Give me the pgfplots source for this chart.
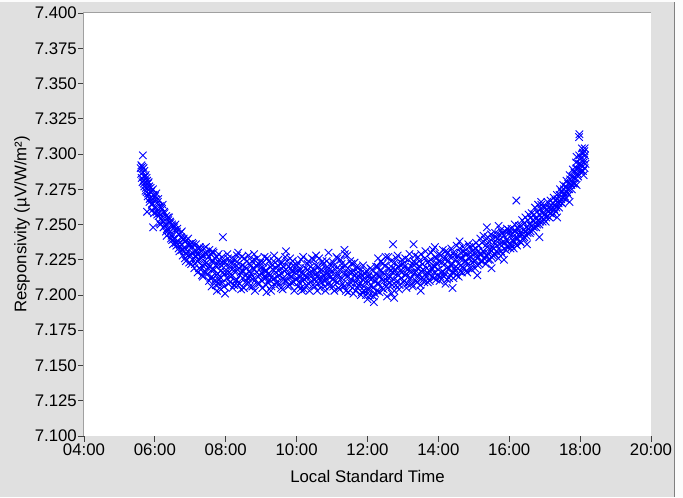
\documentclass[border=0pt]{standalone}
\usepackage{fontspec}
\setmainfont{Liberation Sans}
\usepackage{pgfplots}
\pgfplotsset{compat=1.18}
\definecolor{bg}{RGB}{224,224,224}
\definecolor{frame}{RGB}{160,160,160}
\begin{document}
\fontsize{16.8}{20}\selectfont
\begin{tikzpicture}
\fill[bg] (-84pt,-61pt) rectangle (599pt,436pt);
\fill[white!92!bg] (-84pt,434pt) rectangle (599pt,436pt);
\fill[white!92!bg] (591pt,-61pt) rectangle (599pt,436pt);
\draw[gray, line width=1pt] (590.5pt,-61pt) -- (590.5pt,434pt);
\begin{axis}[
  at={(0,0)}, anchor=south west,
  scale only axis, width=567pt, height=423pt,
  xmin=4, xmax=20, ymin=7.1, ymax=7.4,
  xtick={4,6,8,10,12,14,16,18,20},
  xticklabels={04:00,06:00,08:00,10:00,12:00,14:00,16:00,18:00,20:00},
  ytick={7.1,7.125,7.15,7.175,7.2,7.225,7.25,7.275,7.3,7.325,7.35,7.375,7.4},
  yticklabel style={/pgf/number format/fixed, /pgf/number format/fixed zerofill, /pgf/number format/precision=3, inner sep=1pt},
  xticklabel style={inner sep=2pt},
  /pgf/number format/assume math mode=true,
  xtick pos=bottom, ytick pos=left,
  tick align=outside, major tick length=6pt,
  tick style={black!75, line width=0.9pt},
  axis line style={draw=none},
  axis background/.style={fill=white},
  clip=false,
]
\addplot[only marks, mark=x, mark size=5.3pt, blue, mark options={line width=0.9pt}] coordinates {
(5.60,7.290)(5.63,7.283)(5.66,7.287)(5.69,7.279)(5.72,7.284)(5.75,7.276)(5.78,7.281)(5.81,7.272)(5.84,7.277)(5.87,7.269)(5.90,7.274)(5.93,7.265)(5.96,7.271)(5.99,7.262)
(5.62,7.292)(5.65,7.280)(5.68,7.290)(5.70,7.277)(5.74,7.285)(5.77,7.273)(5.80,7.279)(5.85,7.266)(5.88,7.276)(5.92,7.260)(5.95,7.268)(5.66,7.299)(5.78,7.259)(5.95,7.248)
(6.02,7.268)(6.05,7.259)(6.08,7.266)(6.11,7.256)(6.14,7.263)(6.17,7.254)(6.20,7.261)(6.23,7.252)(6.26,7.259)(6.29,7.249)(6.32,7.256)(6.35,7.247)(6.38,7.253)(6.41,7.244)
(6.44,7.251)(6.47,7.242)(6.50,7.249)(6.53,7.240)(6.56,7.246)(6.59,7.237)(6.62,7.245)(6.65,7.236)(6.68,7.243)(6.71,7.234)(6.74,7.241)(6.77,7.232)(6.80,7.239)(6.83,7.231)
(6.86,7.238)(6.89,7.229)(6.92,7.236)(6.95,7.228)(6.98,7.235)
(6.04,7.272)(6.13,7.251)(6.22,7.264)(6.31,7.245)(6.40,7.255)(6.49,7.239)(6.58,7.250)(6.67,7.233)(6.76,7.245)(6.85,7.226)(6.94,7.240)
(7.01,7.228)(7.04,7.234)(7.07,7.225)(7.10,7.231)(7.13,7.222)(7.16,7.236)(7.19,7.224)(7.22,7.229)(7.25,7.219)(7.28,7.232)(7.31,7.226)(7.34,7.221)(7.37,7.228)(7.40,7.217)
(7.43,7.230)(7.46,7.223)(7.49,7.215)(7.52,7.227)(7.55,7.220)(7.58,7.229)(7.61,7.213)(7.64,7.224)(7.67,7.218)(7.70,7.226)(7.73,7.214)(7.76,7.222)(7.79,7.211)(7.82,7.225)
(7.85,7.217)(7.88,7.221)(7.91,7.209)(7.94,7.224)(7.97,7.215)
(7.05,7.237)(7.15,7.228)(7.24,7.233)(7.33,7.214)(7.44,7.234)(7.53,7.210)(7.63,7.231)(7.72,7.207)(7.80,7.229)(7.92,7.241)(7.75,7.203)(7.98,7.201)(7.86,7.204)(7.60,7.206)
(8.00,7.221)(8.03,7.212)(8.06,7.226)(8.09,7.216)(8.12,7.209)(8.15,7.223)(8.18,7.214)(8.21,7.219)(8.24,7.207)(8.27,7.225)(8.30,7.211)(8.33,7.218)(8.36,7.222)(8.39,7.208)
(8.42,7.216)(8.45,7.227)(8.48,7.212)(8.51,7.205)(8.54,7.220)(8.57,7.214)(8.60,7.224)(8.63,7.209)(8.66,7.217)(8.69,7.213)(8.72,7.221)(8.75,7.206)(8.78,7.219)(8.81,7.225)
(8.84,7.211)(8.87,7.216)(8.90,7.208)(8.93,7.222)(8.96,7.214)(8.99,7.219)(9.02,7.210)(9.05,7.223)(9.08,7.213)(9.11,7.217)(9.14,7.207)(9.17,7.226)(9.20,7.215)(9.23,7.211)
(9.26,7.220)(9.29,7.206)(9.32,7.218)(9.35,7.224)(9.38,7.212)(9.41,7.216)(9.44,7.209)(9.47,7.221)(9.50,7.214)(9.53,7.218)(9.56,7.205)(9.59,7.223)(9.62,7.212)(9.65,7.217)
(9.68,7.227)(9.71,7.210)(9.74,7.215)(9.77,7.220)(9.80,7.207)(9.83,7.219)(9.86,7.213)(9.89,7.224)(9.92,7.209)(9.95,7.216)(9.98,7.211)(10.01,7.221)(10.04,7.206)(10.07,7.217)
(10.10,7.213)(10.13,7.225)(10.16,7.210)(10.19,7.215)(10.22,7.204)(10.25,7.219)(10.28,7.212)(10.31,7.222)(10.34,7.208)(10.37,7.216)(10.40,7.213)(10.43,7.226)(10.46,7.207)
(10.49,7.218)(10.52,7.211)(10.55,7.215)(10.58,7.203)(10.61,7.220)(10.64,7.212)(10.67,7.217)(10.70,7.209)(10.73,7.224)(10.76,7.214)(10.79,7.206)(10.82,7.219)(10.85,7.211)
(10.88,7.216)(10.91,7.208)(10.94,7.222)(10.97,7.213)
(8.35,7.230)(8.80,7.229)(9.15,7.202)(9.70,7.231)(10.15,7.203)(10.55,7.228)(10.90,7.230)
(11.00,7.217)(11.03,7.206)(11.06,7.221)(11.09,7.210)(11.12,7.214)(11.15,7.226)(11.18,7.205)(11.21,7.218)(11.24,7.211)(11.27,7.222)(11.30,7.208)(11.33,7.215)(11.36,7.229)
(11.39,7.203)(11.42,7.213)(11.45,7.219)(11.48,7.207)(11.51,7.224)(11.54,7.211)(11.57,7.216)(11.60,7.201)(11.63,7.214)(11.66,7.209)(11.69,7.220)(11.72,7.205)(11.75,7.213)
(11.78,7.208)(11.81,7.218)(11.84,7.202)(11.87,7.211)(11.90,7.206)(11.93,7.215)(11.96,7.200)(11.99,7.210)(12.02,7.213)(12.05,7.204)(12.08,7.219)(12.11,7.207)(12.14,7.212)
(12.17,7.199)(12.20,7.210)(12.23,7.215)(12.26,7.203)(12.29,7.220)(12.32,7.208)(12.35,7.213)(12.38,7.224)(12.41,7.205)(12.44,7.216)(12.47,7.210)(12.50,7.221)(12.53,7.206)
(12.56,7.213)(12.59,7.227)(12.62,7.209)(12.65,7.217)(12.68,7.201)(12.71,7.219)(12.74,7.211)(12.77,7.223)(12.80,7.207)(12.83,7.215)(12.86,7.220)(12.89,7.204)(12.92,7.217)
(12.95,7.212)(12.98,7.225)
(12.18,7.195)(11.35,7.232)(12.72,7.236)(12.85,7.228)(12.30,7.226)(12.00,7.197)(12.55,7.199)(12.75,7.198)
(13.01,7.209)(13.04,7.220)(13.07,7.214)(13.10,7.205)(13.13,7.218)(13.16,7.225)(13.19,7.211)(13.22,7.216)(13.25,7.208)(13.28,7.222)(13.31,7.215)(13.34,7.228)(13.37,7.210)
(13.40,7.219)(13.43,7.213)(13.46,7.224)(13.49,7.207)(13.52,7.217)(13.55,7.222)(13.58,7.211)(13.61,7.226)(13.64,7.215)(13.67,7.219)(13.70,7.209)(13.73,7.224)(13.76,7.217)
(13.79,7.230)(13.82,7.213)(13.85,7.221)(13.88,7.216)(13.91,7.227)(13.94,7.211)(13.97,7.222)(14.00,7.218)(14.03,7.229)(14.06,7.213)(14.09,7.223)(14.12,7.217)(14.15,7.226)
(14.18,7.215)(14.21,7.231)(14.24,7.219)(14.27,7.224)(14.30,7.212)(14.33,7.227)(14.36,7.221)(14.39,7.216)(14.42,7.230)(14.45,7.219)(14.48,7.225)(14.51,7.214)(14.54,7.228)
(14.57,7.222)(14.60,7.233)(14.63,7.217)(14.66,7.226)(14.69,7.220)(14.72,7.231)(14.75,7.224)(14.78,7.217)(14.81,7.229)(14.84,7.222)(14.87,7.234)(14.90,7.219)(14.93,7.227)
(14.96,7.223)(14.99,7.232)
(13.30,7.236)(13.90,7.234)(14.40,7.205)(13.50,7.203)(14.60,7.238)(14.20,7.208)
(15.02,7.224)(15.05,7.233)(15.08,7.228)(15.11,7.221)(15.14,7.235)(15.17,7.229)(15.20,7.224)(15.23,7.237)(15.26,7.231)(15.29,7.226)(15.32,7.239)(15.35,7.228)(15.38,7.234)
(15.41,7.225)(15.44,7.238)(15.47,7.232)(15.50,7.227)(15.53,7.240)(15.56,7.233)(15.59,7.229)(15.62,7.241)(15.65,7.235)(15.68,7.230)(15.71,7.243)(15.74,7.236)(15.77,7.231)
(15.80,7.244)(15.83,7.238)(15.86,7.233)(15.89,7.245)(15.92,7.239)(15.95,7.234)(15.98,7.246)
(15.37,7.248)(15.10,7.214)(15.50,7.219)(15.85,7.225)(15.70,7.249)
(16.01,7.236)(16.04,7.242)(16.07,7.235)(16.10,7.244)(16.13,7.238)(16.16,7.246)(16.19,7.240)(16.22,7.235)(16.25,7.247)(16.28,7.242)(16.31,7.238)(16.34,7.249)(16.37,7.243)
(16.40,7.240)(16.43,7.251)(16.46,7.245)(16.49,7.242)(16.52,7.253)(16.55,7.247)(16.58,7.244)(16.61,7.255)(16.64,7.249)(16.67,7.246)(16.70,7.257)(16.73,7.251)(16.76,7.248)
(16.79,7.259)(16.82,7.253)(16.85,7.250)(16.88,7.261)(16.91,7.255)(16.94,7.252)(16.97,7.262)
(16.20,7.267)(16.50,7.236)(16.85,7.241)(16.90,7.266)
(17.00,7.257)(17.03,7.252)(17.06,7.260)(17.09,7.256)(17.12,7.262)(17.15,7.258)(17.18,7.264)(17.21,7.259)(17.24,7.265)(17.27,7.261)(17.30,7.267)(17.33,7.262)(17.36,7.268)
(17.39,7.265)(17.42,7.271)(17.45,7.266)(17.48,7.273)(17.51,7.269)(17.54,7.275)(17.57,7.270)(17.60,7.277)(17.63,7.273)(17.66,7.279)(17.69,7.275)(17.72,7.282)(17.75,7.278)
(17.78,7.284)(17.81,7.279)(17.84,7.287)(17.87,7.283)(17.90,7.290)(17.93,7.286)(17.96,7.293)(17.99,7.289)(18.02,7.297)(18.05,7.292)(18.08,7.301)(18.11,7.296)(18.12,7.302)
(17.98,7.314)(17.97,7.312)(18.10,7.285)(18.05,7.304)(17.90,7.298)(18.08,7.288)(17.70,7.266)(17.35,7.255)(17.90,7.278)(18.14,7.299)(18.15,7.293)(18.13,7.304)
(5.615,7.286)(5.645,7.291)(5.675,7.281)(5.705,7.288)(5.735,7.274)(5.765,7.283)(5.795,7.270)(5.825,7.280)(5.855,7.268)(5.885,7.273)(5.915,7.264)(5.945,7.275)(5.975,7.258)
(6.005,7.270)(6.035,7.262)(6.065,7.257)(6.095,7.268)(6.125,7.258)(6.155,7.250)(6.185,7.262)(6.215,7.255)(6.245,7.248)(6.275,7.258)(6.305,7.250)(6.335,7.242)(6.365,7.255)
(6.395,7.246)(6.425,7.252)(6.455,7.240)(6.485,7.250)(6.515,7.236)(6.545,7.248)(6.575,7.240)(6.605,7.235)(6.635,7.247)(6.665,7.238)(6.695,7.231)(6.725,7.244)(6.755,7.236)
(6.785,7.228)(6.815,7.240)(6.845,7.233)(6.875,7.224)(6.905,7.239)(6.935,7.231)(6.965,7.223)(6.995,7.236)
(7.025,7.222)(7.055,7.230)(7.085,7.236)(7.115,7.219)(7.145,7.227)(7.175,7.231)(7.205,7.216)(7.235,7.225)(7.265,7.234)(7.295,7.218)(7.325,7.228)(7.355,7.213)(7.385,7.233)
(7.415,7.222)(7.445,7.216)(7.475,7.229)(7.505,7.219)(7.535,7.232)(7.565,7.212)(7.595,7.224)(7.625,7.218)(7.655,7.230)(7.685,7.210)(7.715,7.221)(7.745,7.227)(7.775,7.215)
(7.805,7.208)(7.835,7.222)(7.865,7.212)(7.895,7.227)(7.925,7.216)(7.955,7.206)(7.985,7.223)
(8.015,7.216)(8.045,7.229)(8.075,7.208)(8.105,7.220)(8.135,7.213)(8.165,7.226)(8.195,7.205)(8.225,7.217)(8.255,7.222)(8.285,7.210)(8.315,7.228)(8.345,7.207)(8.375,7.219)
(8.405,7.214)(8.435,7.204)(8.465,7.221)(8.495,7.217)(8.525,7.226)(8.555,7.209)(8.585,7.219)(8.615,7.212)(8.645,7.228)(8.675,7.206)(8.705,7.215)(8.735,7.224)(8.765,7.211)
(8.795,7.218)(8.825,7.203)(8.855,7.221)(8.885,7.226)(8.915,7.213)(8.945,7.208)(8.975,7.223)
(9.005,7.216)(9.035,7.205)(9.065,7.219)(9.095,7.227)(9.125,7.212)(9.155,7.217)(9.185,7.209)(9.215,7.224)(9.245,7.214)(9.275,7.203)(9.305,7.221)(9.335,7.211)(9.365,7.228)
(9.395,7.207)(9.425,7.219)(9.455,7.213)(9.485,7.225)(9.515,7.208)(9.545,7.222)(9.575,7.215)(9.605,7.204)(9.635,7.220)(9.665,7.210)(9.695,7.218)(9.725,7.224)(9.755,7.206)
(9.785,7.214)(9.815,7.226)(9.845,7.209)(9.875,7.217)(9.905,7.221)(9.935,7.203)(9.965,7.218)
(10.005,7.212)(10.035,7.223)(10.065,7.209)(10.095,7.219)(10.125,7.205)(10.155,7.216)(10.185,7.227)(10.215,7.211)(10.245,7.214)(10.275,7.207)(10.305,7.218)(10.335,7.224)
(10.365,7.203)(10.395,7.220)(10.425,7.210)(10.455,7.216)(10.485,7.225)(10.515,7.206)(10.545,7.221)(10.575,7.213)(10.605,7.208)(10.635,7.226)(10.665,7.205)(10.695,7.218)
(10.725,7.212)(10.755,7.222)(10.785,7.210)(10.815,7.203)(10.845,7.224)(10.875,7.214)(10.905,7.219)(10.935,7.206)(10.965,7.216)
(11.005,7.211)(11.035,7.223)(11.065,7.203)(11.095,7.218)(11.125,7.227)(11.155,7.209)(11.185,7.214)(11.215,7.204)(11.245,7.225)(11.275,7.212)(11.305,7.219)(11.335,7.206)
(11.365,7.221)(11.395,7.215)(11.425,7.228)(11.455,7.202)(11.485,7.216)(11.515,7.209)(11.545,7.222)(11.575,7.205)(11.605,7.217)(11.635,7.223)(11.665,7.203)(11.695,7.212)
(11.725,7.219)(11.755,7.207)(11.785,7.215)(11.815,7.200)(11.845,7.214)(11.875,7.221)(11.905,7.203)(11.935,7.209)(11.965,7.217)
(12.005,7.204)(12.035,7.214)(12.065,7.200)(12.095,7.211)(12.125,7.218)(12.155,7.205)(12.185,7.213)(12.215,7.201)(12.245,7.220)(12.275,7.208)(12.305,7.214)(12.335,7.202)
(12.365,7.217)(12.395,7.211)(12.425,7.222)(12.455,7.204)(12.485,7.215)(12.515,7.227)(12.545,7.210)(12.575,7.205)(12.605,7.219)(12.635,7.213)(12.665,7.224)(12.695,7.207)
(12.725,7.216)(12.755,7.203)(12.785,7.218)(12.815,7.226)(12.845,7.210)(12.875,7.214)(12.905,7.207)(12.935,7.221)(12.965,7.216)
(13.005,7.222)(13.035,7.210)(13.065,7.226)(13.095,7.215)(13.125,7.208)(13.155,7.219)(13.185,7.229)(13.215,7.212)(13.245,7.220)(13.275,7.206)(13.305,7.224)(13.335,7.216)
(13.365,7.222)(13.395,7.209)(13.425,7.227)(13.455,7.215)(13.485,7.220)(13.515,7.229)(13.545,7.212)(13.575,7.218)(13.605,7.209)(13.635,7.231)(13.665,7.213)(13.695,7.223)
(13.725,7.215)(13.755,7.210)(13.785,7.225)(13.815,7.219)(13.845,7.232)(13.875,7.212)(13.905,7.220)(13.935,7.226)(13.965,7.214)
(14.005,7.224)(14.035,7.210)(14.065,7.228)(14.095,7.216)(14.125,7.232)(14.155,7.213)(14.185,7.222)(14.215,7.226)(14.245,7.211)(14.275,7.230)(14.305,7.219)(14.335,7.214)
(14.365,7.233)(14.395,7.222)(14.425,7.212)(14.455,7.228)(14.485,7.217)(14.515,7.235)(14.545,7.219)(14.575,7.213)(14.605,7.226)(14.635,7.230)(14.665,7.216)(14.695,7.234)
(14.725,7.219)(14.755,7.229)(14.785,7.224)(14.815,7.216)(14.845,7.236)(14.875,7.226)(14.905,7.230)(14.935,7.218)(14.965,7.235)
(15.005,7.230)(15.035,7.219)(15.065,7.237)(15.095,7.226)(15.125,7.231)(15.155,7.222)(15.185,7.240)(15.215,7.229)(15.245,7.224)(15.275,7.242)(15.305,7.230)(15.335,7.222)
(15.365,7.236)(15.395,7.241)(15.425,7.229)(15.455,7.225)(15.485,7.243)(15.515,7.234)(15.545,7.228)(15.575,7.237)(15.605,7.244)(15.635,7.231)(15.665,7.240)(15.695,7.226)
(15.725,7.239)(15.755,7.246)(15.785,7.235)(15.815,7.229)(15.845,7.242)(15.875,7.237)(15.905,7.232)(15.935,7.247)(15.965,7.238)
(16.005,7.244)(16.035,7.233)(16.065,7.247)(16.095,7.239)(16.125,7.233)(16.155,7.250)(16.185,7.236)(16.215,7.244)(16.245,7.240)(16.275,7.249)(16.305,7.244)(16.335,7.237)
(16.365,7.253)(16.395,7.246)(16.425,7.241)(16.455,7.255)(16.485,7.248)(16.515,7.244)(16.545,7.257)(16.575,7.250)(16.605,7.245)(16.635,7.258)(16.665,7.253)(16.695,7.248)
(16.725,7.262)(16.755,7.254)(16.785,7.250)(16.815,7.264)(16.845,7.257)(16.875,7.252)(16.905,7.264)(16.935,7.258)(16.965,7.254)
(17.015,7.262)(17.045,7.255)(17.075,7.266)(17.105,7.259)(17.135,7.255)(17.165,7.267)(17.195,7.261)(17.225,7.257)(17.255,7.269)(17.285,7.264)(17.315,7.259)(17.345,7.271)
(17.375,7.266)(17.405,7.262)(17.435,7.275)(17.465,7.268)(17.495,7.265)(17.525,7.278)(17.555,7.272)(17.585,7.268)(17.615,7.281)(17.645,7.275)(17.675,7.271)(17.705,7.285)
(17.735,7.279)(17.765,7.275)(17.795,7.289)(17.825,7.283)(17.855,7.279)(17.885,7.294)(17.915,7.289)(17.945,7.284)(17.975,7.299)(18.005,7.293)(18.035,7.288)(18.065,7.300)
(18.095,7.294)(18.125,7.290)
};
\end{axis}
\draw[frame, line width=1pt] (0,0) -- (0,423pt) -- (567pt,423pt);
\node[anchor=center] at (283.5pt,-40pt) {Local Standard Time};
\node[anchor=center, rotate=90] at (-62pt,211.5pt) {Responsivity (µV/W/m²)};
\end{tikzpicture}
\end{document}
